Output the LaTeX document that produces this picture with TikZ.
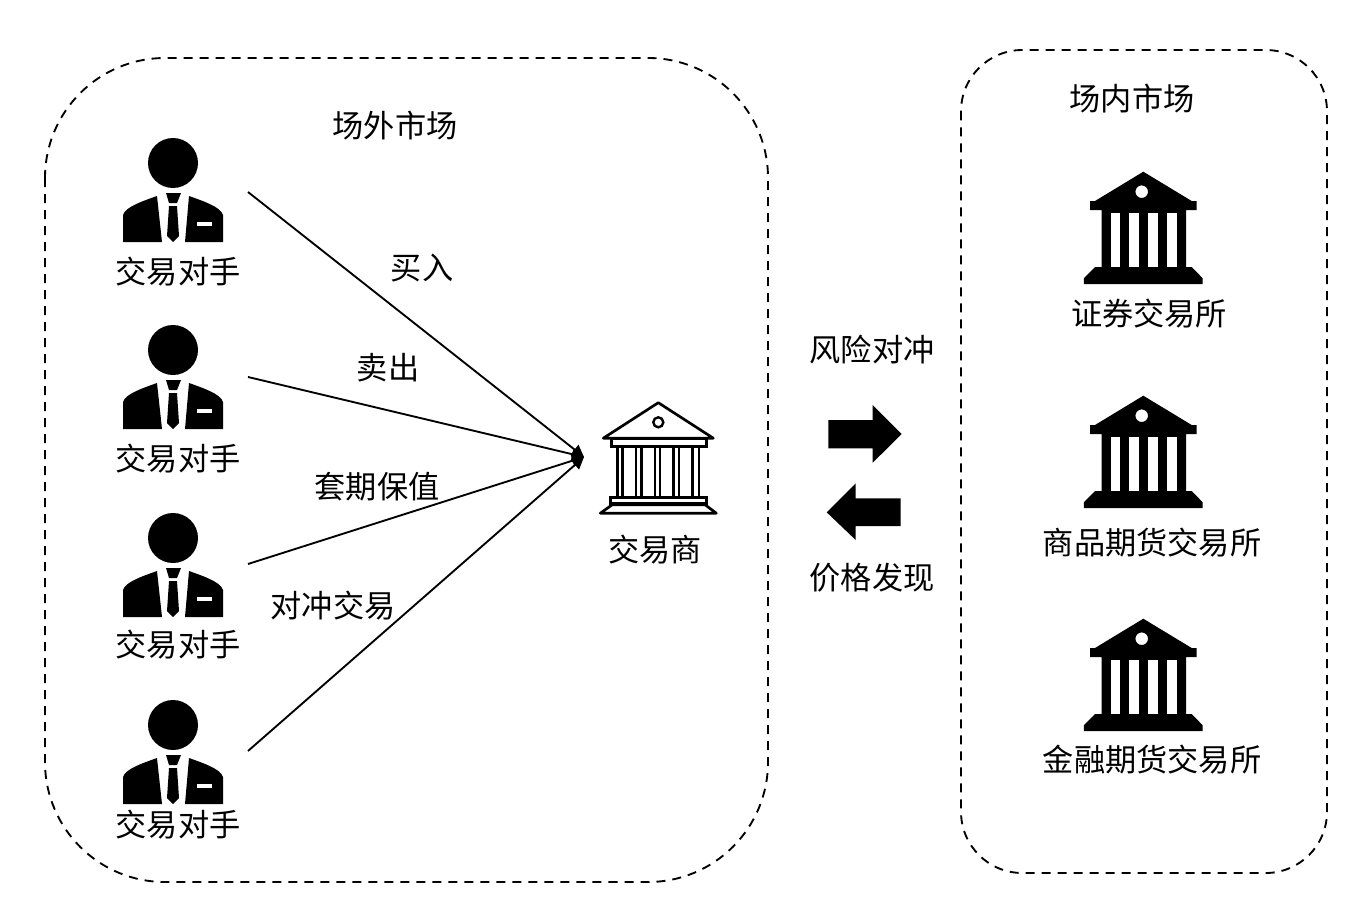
\documentclass[tikz,border=0pt]{standalone}
\usepackage{fontspec}
\setmainfont{Noto Sans CJK SC}
\usetikzlibrary{arrows.meta}
\tikzset{
  x=0.75pt, y=-0.75pt,
  label text/.style={font=\fontsize{23.4pt}{26pt}\selectfont, inner sep=0pt, text=black},
  market/.style={draw=black, line width=1.4pt, dash pattern=on 6.75pt off 5.25pt},
  trade/.style={draw=black, line width=1.4pt, -{Stealth[length=9pt, width=9pt, inset=0pt]}},
  pics/trader/.style={code={
    \fill (0,0) circle[radius=25];
    \fill (-50,79) -- (-50,52) .. controls (-48,44) and (-30,38) .. (-16,33) -- (-11,79) -- cycle;
    \fill (50,79) -- (50,52) .. controls (48,44) and (30,38) .. (16,33) -- (12,79) -- cycle;
    \fill (-7,30) -- (8,30) -- (4,40) -- (-4,40) -- cycle;
    \fill (-4,43) -- (4,43) -- (6,73) -- (0,79) -- (-6,73) -- cycle;
    \fill[white] (24,59.3) rectangle (39,63);
  }},
  pics/outlinebank/.style={code={
    \draw[line width=2pt, line join=round] (0,0) -- (-55,35.5) -- (55,35.5) -- cycle;
    \draw[line width=1.8pt] (0,19.6) circle[radius=5];
    \draw[line width=2pt] (-47,36) rectangle (48.5,43.5);
    \foreach \cx in {-41,-36,-22.3,-17,-3.3,1.7,15,20.7,34,40.7}
      \draw[line width=2pt] (\cx,43.5) -- (\cx,94.5);
    \draw[line width=2pt] (-48,94.5) rectangle (48.5,100.5);
    \draw[line width=2pt, line join=round] (-46,102) -- (46.7,102) -- (58,110.5) -- (-58,110.5) -- cycle;
  }},
  pics/solidbank/.style={code={
    \fill[even odd rule] (0,0) -- (48.4,29.3) -- (53.4,29.3) -- (53.4,38.3) -- (42.7,38.3) -- (42.7,95.3)
      -- (48.4,95.3) -- (59.4,106.6) -- (59.4,112.3) -- (-59.4,112.3) -- (-59.4,106.6) -- (-48.3,95.3)
      -- (-41.6,95.3) -- (-41.6,38.3) -- (-53.3,38.3) -- (-53.3,29.3) -- (-48.3,29.3) -- cycle
      (-1.6,20) circle[radius=6.3];
    \foreach \wx in {-32.6,-14,5,24}
      \fill[white] (\wx,41) rectangle ++(9.4,54.3);
  }}
}
\begin{document}
\begin{tikzpicture}
  \useasboundingbox (0,0) rectangle (1363,899);

  % market boundaries
  \draw[market, rounded corners=90pt] (45,58) rectangle (768,882);
  \draw[market, rounded corners=46pt] (961,50) rectangle (1327,873);

  \node[label text] (otcTitle) at (395,126) {场外市场};
  \node[label text] (exTitle) at (1132,99) {场内市场};

  % counterparties
  \foreach \py/\ly/\nm in {163/272/a, 350/459/b, 538/645/c, 725/825/d} {
    \pic at (173,\py) {trader};
    \node[label text] (party\nm) at (178,\ly) {交易对手};
  }

  % dealer
  \pic at (658.3,402.7) {outlinebank};
  \node[label text] (dealer) at (655,550) {交易商};
  \coordinate (dealerTip) at (584,457);

  % trades into the dealer
  \coordinate (startA) at (248,192);
  \coordinate (startB) at (248,377);
  \coordinate (startC) at (248,564);
  \coordinate (startD) at (248,751);
  \foreach \s in {startA,startB,startC,startD}
    \draw[trade] (\s) -- (dealerTip);
  \node[label text] (buy) at (422,268) {买入};
  \node[label text] (sell) at (388,368) {卖出};
  \node[label text] (hedgeValue) at (377,487) {套期保值};
  \node[label text] (hedgeTrade) at (333,606) {对冲交易};

  % flows between the markets
  \fill (828.3,420) -- (872.7,420) -- (872.7,405) -- (901.7,434) -- (872.7,462.7) -- (872.7,448.3) -- (828.3,448.3) -- cycle;
  \fill (900.7,498.3) -- (855.7,498.3) -- (855.7,483.3) -- (826.7,512.3) -- (855.7,540) -- (855.7,526) -- (900.7,526) -- cycle;
  \node[label text] (riskHedge) at (872,350) {风险对冲};
  \node[label text] (priceFind) at (872,578) {价格发现};

  % exchanges
  \foreach \by in {171.7,395.7,618.7}
    \pic at (1143.3,\by) {solidbank};
  \node[label text] (stock) at (1149,314) {证券交易所};
  \node[label text] (commodity) at (1152,543) {商品期货交易所};
  \node[label text] (financial) at (1152,760) {金融期货交易所};
\end{tikzpicture}
\end{document}
